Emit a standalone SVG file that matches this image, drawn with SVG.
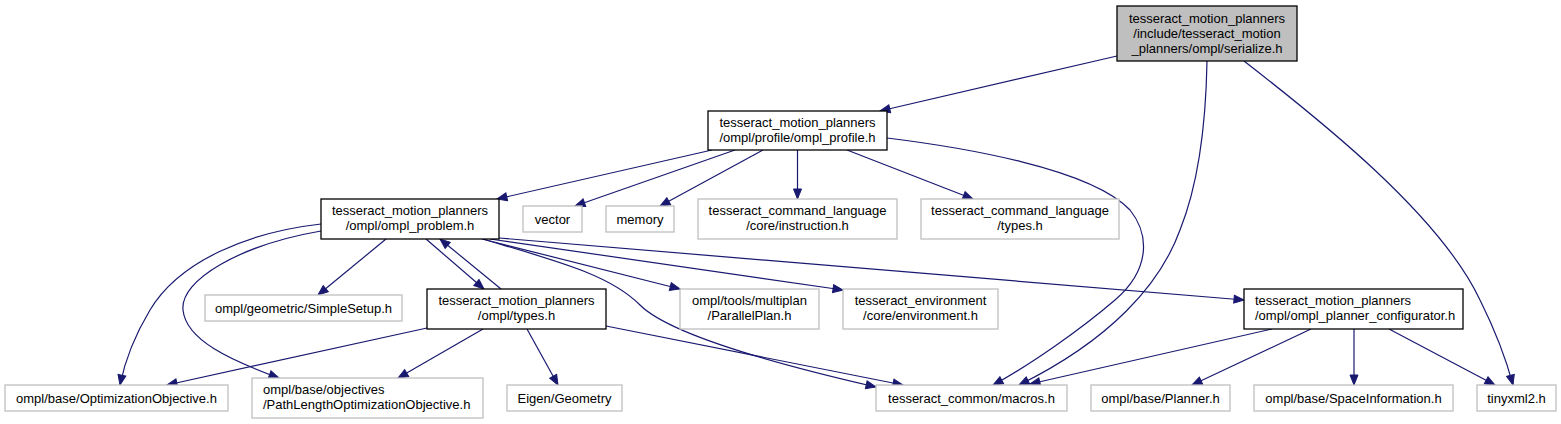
<svg xmlns="http://www.w3.org/2000/svg" width="1561" height="424" viewBox="0 0 1561 424">
<style>
text{font-family:"Liberation Sans",Arial,sans-serif;font-size:13px;fill:#000}
.c{text-anchor:middle}
.d{fill:#fff;stroke:#000;stroke-width:1.3}
.g{fill:#fff;stroke:#bfbfbf;stroke-width:1.3}
.r{fill:#bfbfbf;stroke:#000;stroke-width:1.3}
#edges path{fill:none;stroke:#191970;stroke-width:1.2;marker-end:url(#ah)}
</style>
<defs>
<marker id="ah" markerUnits="userSpaceOnUse" markerWidth="12" markerHeight="10" refX="11" refY="5" orient="auto">
<path d="M1,1 L11,5 L1,9 Z" fill="#191970" stroke="#191970" stroke-width="1"/>
</marker>
</defs>
<rect width="1561" height="424" fill="#fff"/>
<g id="edges">
<path d="M1117,56 L880,111"/>
<path d="M1207,61 C1206,120 1200,180 1180,230 C1160,285 1110,340 1019,385"/>
<path d="M1244,61 C1320,120 1440,215 1480,300 C1495,330 1505,355 1513,385"/>
<path d="M712,150 L497,199"/>
<path d="M735,150 L575,206"/>
<path d="M763,150 L660,206"/>
<path d="M797.5,150 L797.5,199"/>
<path d="M847,150 L973,199"/>
<path d="M887,138 C960,147 1090,168 1130,210 C1150,235 1150,270 1115,300 C1080,330 1030,365 993,385"/>
<path d="M321,224 C250,232 180,260 150,310 C135,335 125,360 120,385"/>
<path d="M321,231 C240,245 180,280 183,310 C186,340 230,360 279,378"/>
<path d="M386,239 L318,295"/>
<path d="M426,239 L484,289"/>
<path d="M501,289 L440,239"/>
<path d="M482,239 L680,289"/>
<path d="M490,239 L843,290"/>
<path d="M499,238 L1244,300"/>
<path d="M483,239 C560,262 610,275 640,305 C670,335 780,365 876,387"/>
<path d="M427,328 L167,385"/>
<path d="M483,329 L398,378"/>
<path d="M527,329 L558,385"/>
<path d="M606,326 L903,385"/>
<path d="M1272,329 L1030,384"/>
<path d="M1311,329 L1192,385"/>
<path d="M1354,329 L1354,385"/>
<path d="M1389,329 L1495,385"/>
</g>
<g id="n_serialize"><rect class="r" x="1117" y="6" width="180" height="55"/>
<text class="c" x="1207" y="22.5">tesseract_motion_planners</text>
<text class="c" x="1207" y="37.5">/include/tesseract_motion</text>
<text class="c" x="1207" y="52.5">_planners/ompl/serialize.h</text></g>
<g id="n_ompl_profile"><rect class="d" x="708" y="111" width="179" height="39"/>
<text class="c" x="797.5" y="126.5">tesseract_motion_planners</text>
<text class="c" x="797.5" y="141.5">/ompl/profile/ompl_profile.h</text></g>
<g id="n_ompl_problem"><rect class="d" x="321" y="199" width="178" height="40"/>
<text class="c" x="410" y="214.5">tesseract_motion_planners</text>
<text class="c" x="410" y="229.5">/ompl/ompl_problem.h</text></g>
<g id="n_vector"><rect class="g" x="523" y="206" width="59" height="26"/>
<text class="c" x="552.5" y="223.5">vector</text></g>
<g id="n_memory"><rect class="g" x="606" y="206" width="68" height="26"/>
<text class="c" x="640" y="223.5">memory</text></g>
<g id="n_instruction"><rect class="g" x="698" y="199" width="199" height="40"/>
<text class="c" x="797.5" y="214.5">tesseract_command_language</text>
<text class="c" x="797.5" y="229.5">/core/instruction.h</text></g>
<g id="n_cmd_types"><rect class="g" x="921" y="199" width="198" height="40"/>
<text class="c" x="1020" y="214.5">tesseract_command_language</text>
<text class="c" x="1020" y="229.5">/types.h</text></g>
<g id="n_simplesetup"><rect class="g" x="205" y="295" width="197" height="26"/>
<text class="c" x="303.5" y="312.5">ompl/geometric/SimpleSetup.h</text></g>
<g id="n_ompl_types"><rect class="d" x="427" y="289" width="179" height="40"/>
<text class="c" x="516.5" y="304.5">tesseract_motion_planners</text>
<text class="c" x="516.5" y="319.5">/ompl/types.h</text></g>
<g id="n_parallelplan"><rect class="g" x="680" y="289" width="139" height="40"/>
<text class="c" x="749.5" y="304.5">ompl/tools/multiplan</text>
<text class="c" x="749.5" y="319.5">/ParallelPlan.h</text></g>
<g id="n_environment"><rect class="g" x="843" y="289" width="155" height="40"/>
<text class="c" x="920.5" y="304.5">tesseract_environment</text>
<text class="c" x="920.5" y="319.5">/core/environment.h</text></g>
<g id="n_planner_config"><rect class="d" x="1244" y="289" width="219" height="40"/>
<text x="1255" y="304.5">tesseract_motion_planners</text>
<text x="1255" y="319.5">/ompl/ompl_planner_configurator.h</text></g>
<g id="n_optobj"><rect class="g" x="5" y="385" width="223" height="26"/>
<text class="c" x="116.5" y="402.5">ompl/base/OptimizationObjective.h</text></g>
<g id="n_pathlength"><rect class="g" x="252" y="378" width="231" height="40"/>
<text x="263" y="393.5">ompl/base/objectives</text>
<text x="263" y="408.5">/PathLengthOptimizationObjective.h</text></g>
<g id="n_eigen"><rect class="g" x="507" y="385" width="115" height="26"/>
<text class="c" x="564.5" y="402.5">Eigen/Geometry</text></g>
<g id="n_macros"><rect class="g" x="876" y="385" width="191" height="26"/>
<text class="c" x="971.5" y="402.5">tesseract_common/macros.h</text></g>
<g id="n_planner"><rect class="g" x="1091" y="385" width="139" height="26"/>
<text class="c" x="1160.5" y="402.5">ompl/base/Planner.h</text></g>
<g id="n_spaceinfo"><rect class="g" x="1254" y="385" width="199" height="26"/>
<text class="c" x="1353.5" y="402.5">ompl/base/SpaceInformation.h</text></g>
<g id="n_tinyxml2"><rect class="g" x="1477" y="385" width="79" height="26"/>
<text class="c" x="1516.5" y="402.5">tinyxml2.h</text></g>
</svg>
